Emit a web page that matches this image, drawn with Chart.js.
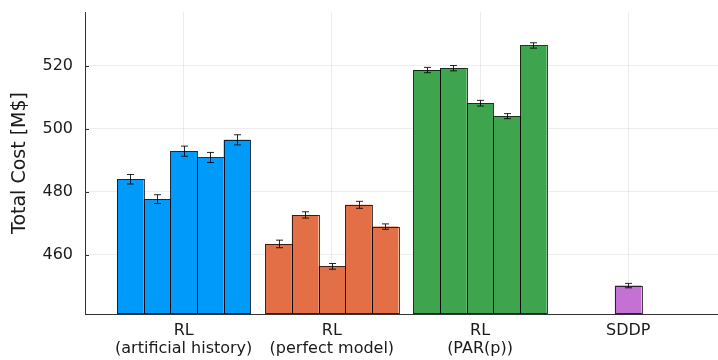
<!DOCTYPE html>
<html>
<head>
<meta charset="utf-8">
<script src="https://cdn.jsdelivr.net/npm/chart.js@4/dist/chart.umd.min.js"></script>
<style>
  html, body { margin: 0; padding: 0; background: #fff; }
  #c { display: block; }
</style>
</head>
<body>
<canvas id="c" width="718" height="360"></canvas>
<script>
// ---- data ----
const categories = [
  ["RL", "(artificial history)"],
  ["RL", "(perfect model)"],
  ["RL", "(PAR(p))"],
  ["SDDP"]
];
const categoryPositions = [1, 2, 3, 4];
const rlArtificialHistory = [484.0, 477.7, 492.9, 490.9, 496.5];
const rlArtificialHistoryErr = [1.5, 1.4, 1.6, 1.6, 1.6];
const rlPerfectModel = [463.5, 472.7, 456.4, 475.9, 469.0];
const rlPerfectModelErr = [1.2, 1.0, 0.9, 1.1, 0.85];
const rlParP = [518.6, 519.2, 508.1, 504.0, 526.4];
const rlParPErr = [0.85, 0.85, 0.9, 0.8, 0.85];
const sddp = [450.3];
const sddpErr = [0.7];
const yTicks = [460, 480, 500, 520];
const yMin = 441.3, yMax = 537.0;
const xMin = 0.334, xMax = 4.606;

const groupColors = ["#009AFA", "#E36F47", "#3EA44E"];
const sddpColor = "#C371D2";
const FONT = "'DejaVu Sans', sans-serif";
const EDGE = "rgba(0,0,0,0.75)";

// ---- datasets ----
const datasets = [];
for (let k = 0; k < rlArtificialHistory.length; k++) {
  datasets.push({
    label: "run " + (k + 1),
    data: [
      { x: categoryPositions[0], y: rlArtificialHistory[k], err: rlArtificialHistoryErr[k] },
      { x: categoryPositions[1], y: rlPerfectModel[k], err: rlPerfectModelErr[k] },
      { x: categoryPositions[2], y: rlParP[k], err: rlParPErr[k] }
    ],
    backgroundColor: groupColors,
    borderWidth: 0,
    categoryPercentage: 0.9,
    barPercentage: 1.0
  });
}
datasets.push({
  label: "SDDP",
  data: [{ x: categoryPositions[3], y: sddp[0], err: sddpErr[0] }],
  backgroundColor: sddpColor,
  borderWidth: 0,
  grouped: false,
  categoryPercentage: 0.18,
  barPercentage: 1.0
});

// ---- outlines + error bars plugin ----
const errorBars = {
  id: "errorBars",
  afterDatasetsDraw(chart) {
    const ctx = chart.ctx;
    const ys = chart.scales.y;
    const area = chart.chartArea;
    ctx.save();
    ctx.beginPath();
    ctx.rect(area.left, area.top, area.right - area.left, area.bottom - area.top + 1);
    ctx.clip();
    // bar outlines
    ctx.strokeStyle = EDGE;
    ctx.lineWidth = 1;
    chart.data.datasets.forEach((ds, i) => {
      const meta = chart.getDatasetMeta(i);
      meta.data.forEach((el) => {
        const p = el.getProps(["x", "y", "base", "width"], true);
        const l = Math.round(p.x - p.width / 2) + 0.5;
        const r = Math.round(p.x + p.width / 2) + 0.5;
        const t = Math.round(p.y) + 0.5;
        const b = Math.round(Math.min(p.base, area.bottom)) - 0.5;
        ctx.strokeRect(l, t, r - l, b - t);
      });
    });
    // error bars
    ctx.strokeStyle = "rgba(0,0,0,0.85)";
    chart.data.datasets.forEach((ds, i) => {
      const meta = chart.getDatasetMeta(i);
      meta.data.forEach((el, j) => {
        const d = ds.data[j];
        const x = Math.round(el.x) + 0.5;
        const yTop = ys.getPixelForValue(d.y + d.err);
        const yBot = ys.getPixelForValue(d.y - d.err);
        const cw = 3.5;
        ctx.beginPath();
        ctx.moveTo(x, yTop); ctx.lineTo(x, yBot);
        ctx.moveTo(x - cw, yTop); ctx.lineTo(x + cw, yTop);
        ctx.moveTo(x - cw, yBot); ctx.lineTo(x + cw, yBot);
        ctx.stroke();
      });
    });
    ctx.restore();
  },
  afterDraw(chart) {
    const ctx = chart.ctx;
    const ys = chart.scales.y;
    const left = chart.chartArea.left;
    ctx.save();
    ctx.strokeStyle = "#333";
    ctx.lineWidth = 1;
    yTicks.forEach(v => {
      const y = Math.round(ys.getPixelForValue(v)) + 0.5;
      ctx.beginPath();
      ctx.moveTo(left, y); ctx.lineTo(left + 4, y);
      ctx.stroke();
    });
    ctx.restore();
  }
};

new Chart(document.getElementById("c"), {
  type: "bar",
  data: { datasets },
  options: {
    responsive: false,
    animation: false,
    devicePixelRatio: 1,
    layout: { padding: { top: 12, right: 0, left: 0, bottom: 0 } },
    plugins: { legend: { display: false }, tooltip: { enabled: false } },
    scales: {
      x: {
        type: "linear",
        min: xMin,
        max: xMax,
        offset: false,
        afterBuildTicks(scale) { scale.ticks = categoryPositions.map(v => ({ value: v })); },
        afterFit(scale) { scale.height = 46; scale.paddingLeft = 0; scale.paddingRight = 0; },
        grid: { color: "rgba(0,0,0,0.07)", drawTicks: false, offset: false },
        border: { display: true, color: "#333", width: 1 },
        ticks: {
          padding: 8,
          maxRotation: 0,
          autoSkip: false,
          color: "#1a1a1a",
          font: { family: FONT, size: 16, lineHeight: 1.12 },
          callback(value) {
            const idx = categoryPositions.indexOf(value);
            return idx >= 0 ? categories[idx] : "";
          }
        }
      },
      y: {
        min: yMin,
        max: yMax,
        afterBuildTicks(scale) { scale.ticks = yTicks.map(v => ({ value: v })); },
        afterFit(scale) { scale.width = 85; scale.paddingTop = 0; scale.paddingBottom = 0; },
        grid: { color: "rgba(0,0,0,0.07)", drawTicks: false },
        border: { display: true, color: "#333", width: 1 },
        ticks: {
          padding: 12,
          color: "#1a1a1a",
          font: { family: FONT, size: 16 }
        },
        title: {
          display: true,
          text: "Total Cost [M$]",
          color: "#1a1a1a",
          font: { family: FONT, size: 19 },
          padding: { top: 9, bottom: 0 }
        }
      }
    }
  },
  plugins: [errorBars]
});
</script>
</body>
</html>
